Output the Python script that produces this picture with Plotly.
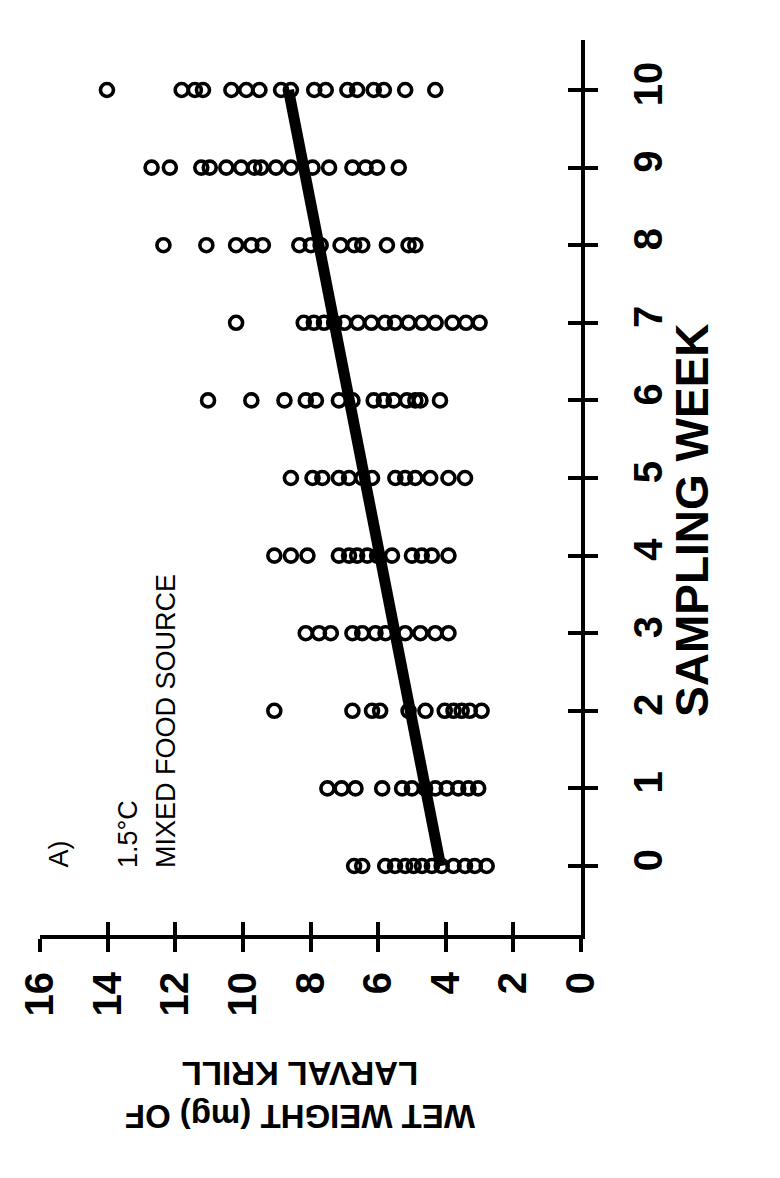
import plotly.graph_objects as go

# ---- data ----
weeks = [0, 1, 2, 3, 4, 5, 6, 7, 8, 9, 10]
w0 = [6.71, 6.47, 5.79, 5.5, 5.2, 4.95, 4.7, 4.41, 4.12, 3.77, 3.43, 3.14, 2.79]
w1 = [7.5, 7.08, 6.67, 5.88, 5.29, 5.0, 4.61, 4.31, 3.97, 3.63, 3.33, 3.04]
w2 = [9.07, 6.76, 6.18, 5.94, 5.1, 4.6, 4.03, 3.77, 3.53, 3.29, 2.94]
w3 = [8.14, 7.75, 7.4, 6.76, 6.47, 6.08, 5.78, 5.2, 4.75, 4.31, 3.92]
w4 = [9.07, 8.58, 8.09, 7.16, 6.86, 6.62, 6.32, 6.03, 5.59, 5.0, 4.71, 4.41, 3.92]
w5 = [8.58, 7.94, 7.65, 7.16, 6.86, 6.47, 6.18, 5.49, 5.2, 4.9, 4.46, 3.92, 3.43]
w6 = [11.03, 9.75, 8.77, 8.14, 7.84, 7.16, 6.76, 6.13, 5.83, 5.54, 5.15, 4.9, 4.75, 4.17]
w7 = [10.2, 8.2, 7.9, 7.6, 7.3, 7.0, 6.6, 6.2, 5.8, 5.5, 5.1, 4.7, 4.3, 3.8, 3.4, 3.0]
w8 = [12.35, 11.08, 10.2, 9.75, 9.41, 8.33, 7.99, 7.7, 7.11, 6.71, 6.47, 5.74, 5.1, 4.9]
w9 = [12.7, 12.16, 11.23, 10.98, 10.49, 10.05, 9.66, 9.46, 9.02, 8.58, 7.94, 7.45,
      6.76, 6.37, 6.03, 5.39]
w10 = [14.02, 11.81, 11.42, 11.18, 10.34, 9.9, 9.51, 8.87, 8.58, 7.89, 7.55, 6.91,
       6.62, 6.13, 5.83, 5.2, 4.31]
fit_weeks = [0, 10]
fit_weights = [4.15, 8.65]
weight_ticks = [0, 2, 4, 6, 8, 10, 12, 14, 16]
week_ticks = [0, 1, 2, 3, 4, 5, 6, 7, 8, 9, 10]

per_week = [w0, w1, w2, w3, w4, w5, w6, w7, w8, w9, w10]
xs, ys = [], []
for wk, vals in zip(weeks, per_week):
    for v in vals:
        xs.append(v)
        ys.append(wk)

# ---- layout geometry (pixels) ----
W, H = 780, 1178
L, R, T, B = 40, 581, 40, 935
ML, MR, MT, MB = L, W - R, T, H - B
PXW = 77.6  # pixels per week
YR = [0 - (B - 866) / PXW, 10 + (90 - T) / PXW]

def px(x):
    return (x - L) / (R - L)

def py(y):
    return (B - y) / (B - T)

FONT = "Liberation Sans, Arial, sans-serif"

fig = go.Figure()
fig.add_trace(go.Scatter(
    x=fit_weights, y=fit_weeks, mode="lines",
    line=dict(color="black", width=11), showlegend=False, hoverinfo="skip"))
fig.add_trace(go.Scatter(
    x=xs, y=ys, mode="markers",
    marker=dict(symbol="circle-open", size=13, color="black", line=dict(width=3.6)),
    showlegend=False))
# invisible trace for overlay axes (inner halves of crossing ticks)
fig.add_trace(go.Scatter(x=[None], y=[None], xaxis="x2", yaxis="y2",
                         showlegend=False, hoverinfo="skip"))

fig.update_layout(
    width=W, height=H,
    margin=dict(l=ML, r=MR, t=MT, b=MB, pad=0),
    paper_bgcolor="white", plot_bgcolor="white",
    showlegend=False,
    xaxis=dict(
        range=[16, 0], tickvals=weight_ticks, ticktext=[str(v) for v in weight_ticks],
        showgrid=False, zeroline=False, showline=True, linecolor="black", linewidth=4,
        ticks="outside", ticklen=13, tickwidth=4, tickcolor="black",
        tickangle=-90, tickfont=dict(family=FONT, size=40, color="black", weight="bold"),
        ticklabelstandoff=4,
    ),
    yaxis=dict(
        range=YR, tickvals=week_ticks, side="right",
        showgrid=False, zeroline=False, showline=True, linecolor="black", linewidth=4,
        ticks="outside", ticklen=13, tickwidth=4, tickcolor="black",
        tickangle=-90, tickfont=dict(family=FONT, size=40, color="black", weight="bold"),
        ticklabelstandoff=16,
    ),
    xaxis2=dict(
        range=[16, 0], tickvals=weight_ticks, overlaying="x", anchor="y2", side="bottom",
        showgrid=False, zeroline=False, showline=False, showticklabels=False,
        ticks="inside", ticklen=13, tickwidth=4, tickcolor="black",
    ),
    yaxis2=dict(
        range=YR, tickvals=week_ticks, overlaying="y", anchor="x2", side="right",
        showgrid=False, zeroline=False, showline=False, showticklabels=False,
        ticks="inside", ticklen=13, tickwidth=4, tickcolor="black",
    ),
)

annos = [
    dict(text="A)", x=px(58), y=py(870), size=27),
    dict(text="1.5°C", x=px(128), y=py(870), size=27),
    dict(text="MIXED FOOD SOURCE", x=px(166), y=py(870), size=27),
]
for a in annos:
    fig.add_annotation(
        text=a["text"], x=a["x"], y=a["y"], xref="paper", yref="paper",
        xanchor="center", yanchor="bottom", textangle=-90, showarrow=False,
        font=dict(family=FONT, size=a["size"], color="black"))

fig.add_annotation(
    text="SAMPLING WEEK", x=px(692), y=py(520), xref="paper", yref="paper",
    xanchor="center", yanchor="middle", textangle=-90, showarrow=False,
    font=dict(family=FONT, size=46, color="black", weight="bold"))
fig.add_annotation(
    text="WET WEIGHT (mg) OF<br>LARVAL KRILL", x=px(300), y=py(1095),
    xref="paper", yref="paper", xanchor="center", yanchor="middle",
    textangle=180, showarrow=False, align="center",
    font=dict(family=FONT, size=33, color="black", weight="bold"))

fig.write_html("out.html")
